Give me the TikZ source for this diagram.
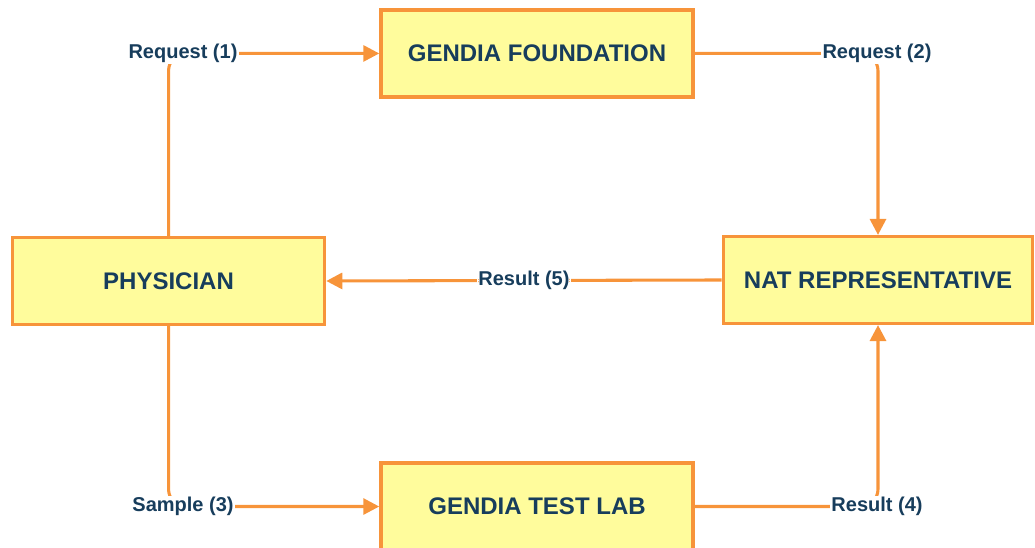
\documentclass[tikz,border=0pt]{standalone}
\usepackage{fontspec}
\setmainfont{Liberation Sans}
\usepackage{tikz}
\usetikzlibrary{arrows.meta, positioning}
\usepackage{xcolor}

\definecolor{boxorange}{HTML}{F7943A}
\definecolor{boxyellow}{HTML}{FFFC9C}
\definecolor{textblue}{HTML}{173D5C}

\begin{document}
\begin{tikzpicture}[
    x=1pt, y=1pt,
    party/.style={rectangle, draw=boxorange, fill=boxyellow, line width=2.6pt, minimum width=234pt, minimum height=65pt, align=center, font=\fontsize{18}{21}\selectfont\bfseries, text=textblue},
    tag/.style={fill=white, inner sep=1pt, font=\fontsize{15}{18}\selectfont\bfseries, text=textblue},
    flow/.style={-{Triangle[length=12pt, width=12pt]}, draw=boxorange, line width=2.3pt, rounded corners=13pt}
]
\useasboundingbox (0,0) rectangle (776.25,411);

% parties
\node[party] (Foundation) at (402.75,370.9) {GENDIA FOUNDATION};
\node[party] (Physician) at (126.4,200.25) {PHYSICIAN};
\node[party, minimum width=232pt] (NatRep) at (658.5,201) {NAT REPRESENTATIVE};
\node[party] (TestLab) at (402.75,31.1) {GENDIA TEST LAB};

% flows
\draw[flow] (Physician.north) |- (Foundation.west);
\draw[flow] (Foundation.east) -| (NatRep.north);
\draw[flow] (Physician.south) |- (TestLab.west);
\draw[flow] (TestLab.east) -| (NatRep.south);
\draw[flow] (NatRep.west) -- node[tag] {Result (5)} (Physician.east);

% step labels
\node[tag] (Req1) at (137.25,370.9) {Request (1)};
\node[tag] (Req2) at (657.75,370.9) {Request (2)};
\node[tag] (Smp3) at (137.25,31.1) {Sample (3)};
\node[tag] (Res4) at (657.75,31.1) {Result (4)};

\end{tikzpicture}
\end{document}
